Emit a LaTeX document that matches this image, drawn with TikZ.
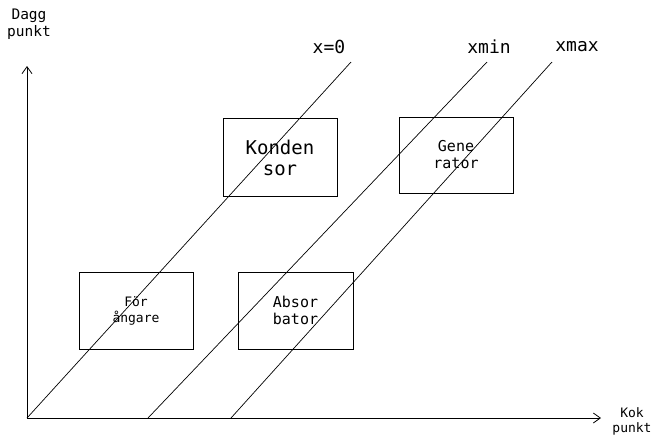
\documentclass[tikz,border=0pt]{standalone}
\usepackage{fontspec}
\setmainfont{DejaVu Sans Mono}
\usetikzlibrary{arrows, arrows.meta, positioning}
\tikzset{
    unit/.style = {rectangle, draw=black, line width=0.8pt, minimum width=114pt, minimum height=78pt, align=center, font=\fontsize{15}{17}\selectfont},
    lbl/.style = {align=center, font=\fontsize{14.5}{17}\selectfont},
    top/.style = {lbl, font=\fontsize{18}{20}\selectfont},
    axis/.style = {line width=0.8pt, -{Straight Barb[length=7pt, width=10pt]}},
    xline/.style = {line width=0.7pt}
}

\begin{document}
\begin{tikzpicture}[x=1pt, y=-1pt]
\useasboundingbox (0,0) rectangle (654,440);

% --- AXES ---
\coordinate (o) at (27,418);
\coordinate (ytop) at (27,66);
\coordinate (xend) at (601,418);
\draw [axis] (o) -- (ytop);
\draw [axis] (o) -- (xend);
\node (dagg) [lbl] at (29,24) {Dagg\\punkt};
\node (kok) [lbl, font=\fontsize{13}{15}\selectfont] at (632,421) {Kok\\punkt};

% --- CONSTANT CONCENTRATION LINES ---
\coordinate (a0) at (27,418);
\coordinate (a1) at (351,62);
\coordinate (b0) at (148,418);
\coordinate (b1) at (487,62);
\coordinate (c0) at (231,418);
\coordinate (c1) at (552,62);
\draw [xline] (a0) -- (a1);
\draw [xline] (b0) -- (b1);
\draw [xline] (c0) -- (c1);
\node (xnoll) [top] at (329,47) {x=0};
\node (xmin) [top] at (489,47) {xmin};
\node (xmax) [top] at (577,47) {xmax};

% --- COMPONENTS ---
\node (kond) [unit, font=\fontsize{19}{21}\selectfont] at (280,157.5) {Konden\\sor};
\node (gen) [unit, minimum height=76pt] at (456,155) {Gene\\rator};
\node (forang) [unit, minimum height=77pt, font=\fontsize{13}{16}\selectfont] at (136,310.5) {För\\ångare};
\node (absorb) [unit, minimum height=77pt, minimum width=115pt] at (295.5,310.5) {Absor\\bator};

\end{tikzpicture}
\end{document}
